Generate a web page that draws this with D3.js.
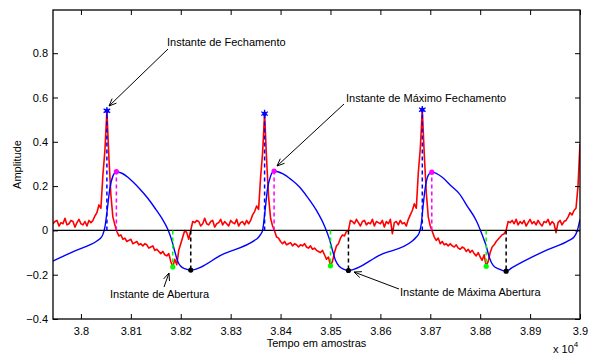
<!DOCTYPE html>
<html><head><meta charset="utf-8">
<script src="https://cdn.jsdelivr.net/npm/d3@7"></script>
<style>
body{margin:0;background:#fff}
svg{display:block}
text{font-family:"Liberation Sans",Arial,Helvetica,sans-serif;}
</style>
</head><body>
<svg id="chart" width="597" height="354"></svg>
<script>
// ---------- data ----------
const xTicks = [38000,38100,38200,38300,38400,38500,38600,38700,38800,38900,39000];
const xTickLabels = ["3.8","3.81","3.82","3.83","3.84","3.85","3.86","3.87","3.88","3.89","3.9"];
const yTicks = [-0.4,-0.2,0,0.2,0.4,0.6,0.8];
const yTickLabels = ["\u22120.4","\u22120.2","0","0.2","0.4","0.6","0.8"];

// red signal (sampled every 4 samples starting at 37944)
const redStart = 37944, redStep = 4;
const redValues = [
 0.030,0.040,0.045,0.020,0.035,0.030,0.055,0.025,0.030,0.045,0.040,0.015,0.035,0.050,0.030,0.025,0.040,0.020,0.045,0.035,
 0.045,0.065,0.080,0.115,0.100,0.250,0.360,0.540,0.330,0.160,
 0.060,0.025,-0.005,-0.025,-0.020,-0.040,-0.035,-0.050,-0.045,-0.040,
 -0.060,-0.055,-0.050,-0.065,-0.060,-0.070,-0.060,-0.065,-0.080,-0.075,
 -0.070,-0.090,-0.085,-0.095,-0.105,-0.095,-0.110,-0.115,-0.105,-0.140,
 -0.165,-0.130,-0.155,-0.090,-0.060,-0.030,0.000,-0.010,-0.040,0.000,
 0.040,
 0.035,0.045,0.040,0.020,0.030,0.055,0.030,0.025,0.040,0.045,
 0.015,0.030,0.035,0.050,0.025,0.040,0.030,0.020,0.045,0.035,
 0.030,0.050,0.020,0.035,0.040,0.025,0.045,0.030,
 0.045,0.070,0.085,0.110,0.095,0.240,0.350,0.527,0.320,0.150,
 0.055,0.020,-0.003,-0.030,-0.035,-0.050,-0.060,-0.050,-0.065,-0.060,
 -0.055,-0.070,-0.060,-0.065,-0.075,-0.065,-0.070,-0.060,-0.075,-0.080,
 -0.070,-0.085,-0.080,-0.090,-0.095,-0.100,-0.090,-0.110,-0.130,-0.120,
 -0.160,-0.140,-0.100,-0.070,-0.060,-0.035,-0.020,-0.025,-0.005,0.000,
 0.045,
 0.040,0.030,0.050,0.035,0.020,0.040,0.045,0.025,0.035,0.030,
 0.050,0.020,0.040,0.035,0.030,0.045,0.015,0.040,0.030,0.050,
 -0.015,0.035,0.040,0.025,0.045,0.030,0.035,0.020,
 0.050,0.070,0.090,0.120,0.100,0.260,0.370,0.545,0.340,0.170,
 0.060,0.020,-0.005,-0.030,-0.045,-0.035,-0.060,-0.050,-0.065,-0.060,
 -0.070,-0.060,-0.070,-0.075,-0.065,-0.080,-0.085,-0.075,-0.080,-0.095,
 -0.085,-0.100,-0.090,-0.105,-0.115,-0.100,-0.120,-0.135,-0.110,-0.162,
 -0.140,-0.100,-0.075,-0.065,-0.050,-0.040,-0.030,-0.020,-0.015,0.000,
 0.040,
 0.035,0.045,0.030,0.050,0.025,0.040,0.030,0.045,0.020,0.035,
 0.050,0.030,0.040,0.025,0.045,0.030,0.020,0.040,0.035,0.050,
 0.025,0.040,0.030,-0.010,0.035,0.045,0.025,0.040,
 0.045,0.060,0.080,0.070,0.090,0.100,0.200,0.390
];

// blue signal breakpoints
const blueX = [37944,37988,38032,38038,38044,38048,38052,38058,38064,38071,38082,38094,38106,38118,38134,38150,38162,38174,38182,38188,38194,38200,38208,38220,
 38284,38348,38354,38360,38364,38368,38374,38380,38387,38404,38422,38438,38454,38472,38488,38498,38504,38510,38518,38526,38536,
 38600,38664,38672,38678,38682,38686,38692,38696,38703,38724,38742,38758,38774,38792,38804,38812,38818,38826,38838,38852,
 38864,38932,38978,38988,38994,39000];
const blueY = [-0.138,-0.092,-0.048,-0.038,-0.018,0.015,0.080,0.190,0.245,0.265,0.258,0.240,0.215,0.187,0.145,0.095,0.055,0.005,-0.045,-0.095,-0.140,-0.162,-0.173,-0.179,
 -0.108,-0.045,-0.035,-0.018,0.000,0.070,0.190,0.245,0.268,0.256,0.228,0.196,0.150,0.090,0.020,-0.040,-0.090,-0.135,-0.163,-0.175,-0.181,
 -0.110,-0.048,-0.030,-0.010,0.030,0.120,0.220,0.250,0.263,0.240,0.200,0.166,0.110,0.045,-0.020,-0.070,-0.120,-0.158,-0.175,-0.184,
 -0.168,-0.090,-0.045,-0.030,-0.005,0.050];

// instants
const closureX = [38052,38368,38684], closureY = [0.540,0.527,0.545];
const maxCloseX = [38071,38387,38703], maxCloseY = [0.265,0.268,0.263];
const openX = [38184,38500,38812], openY = [-0.165,-0.160,-0.162];
const maxOpenX = [38220,38536,38852], maxOpenY = [-0.179,-0.181,-0.184];

// ---------- chart ----------
const svg = d3.select("#chart");
const L = 53, R = 580, T = 10, B = 319;
const x = d3.scaleLinear().domain([37944, 39000]).range([L, R]);
const y = d3.scaleLinear().domain([-0.4, 0.995]).range([B, T]);

svg.append("clipPath").attr("id","clip").append("rect")
  .attr("x",L).attr("y",T).attr("width",R-L).attr("height",B-T);
const plot = svg.append("g").attr("clip-path","url(#clip)");

const redData = redValues.map((v,i)=>[redStart + i*redStep, v]);
const blueData = blueX.map((v,i)=>[v, blueY[i]]);

plot.append("path").datum(redData)
  .attr("d", d3.line().x(d=>x(d[0])).y(d=>y(d[1])))
  .attr("fill","none").attr("stroke","#ff0000").attr("stroke-width",1.6).attr("stroke-linejoin","round");

plot.append("path").datum(blueData)
  .attr("d", d3.line().x(d=>x(d[0])).y(d=>y(d[1])).curve(d3.curveMonotoneX))
  .attr("fill","none").attr("stroke","#0000ff").attr("stroke-width",1.4);

// zero line
plot.append("line").attr("x1",L).attr("x2",R).attr("y1",y(0)).attr("y2",y(0))
  .attr("stroke","#000").attr("stroke-width",1.3);

// dashed stems
function stems(xs, ys, color){
  xs.forEach((xv,i)=>{
    plot.append("line").attr("x1",x(xv)).attr("x2",x(xv)).attr("y1",y(0)).attr("y2",y(ys[i]))
      .attr("stroke",color).attr("stroke-width",1.5).attr("stroke-dasharray","4,3");
  });
}
stems(closureX, closureY, "#0000ff");
stems(maxCloseX, maxCloseY, "#ff00ff");
stems(openX, openY, "#00ff00");
stems(maxOpenX, maxOpenY, "#000000");

// markers
function dots(xs, ys, color){
  xs.forEach((xv,i)=>{
    plot.append("circle").attr("cx",x(xv)).attr("cy",y(ys[i])).attr("r",2.6).attr("fill",color);
  });
}
closureX.forEach((xv,i)=>{
  plot.append("path").attr("transform",`translate(${x(xv)},${y(closureY[i])})`)
    .attr("d", d3.symbol(d3.symbolAsterisk, 40)())
    .attr("stroke","#0000ff").attr("stroke-width",1.3).attr("fill","none");
  plot.append("circle").attr("cx",x(xv)).attr("cy",y(closureY[i])).attr("r",2.2).attr("fill","#0000ff");
});
dots(maxCloseX, maxCloseY, "#ff00ff");
dots(openX, openY, "#00ff00");
dots(maxOpenX, maxOpenY, "#000000");

// axes
const fmtX = d => xTickLabels[xTicks.indexOf(d)];
const fmtY = d => yTickLabels[yTicks.indexOf(d)];
const axB = svg.append("g").attr("transform",`translate(0,${B})`)
  .call(d3.axisBottom(x).tickValues(xTicks).tickFormat(fmtX).tickSizeInner(-5).tickSizeOuter(0).tickPadding(8));
const axT = svg.append("g").attr("transform",`translate(0,${T})`)
  .call(d3.axisTop(x).tickValues(xTicks).tickFormat("").tickSizeInner(-5).tickSizeOuter(0));
const axLft = svg.append("g").attr("transform",`translate(${L},0)`)
  .call(d3.axisLeft(y).tickValues(yTicks).tickFormat(fmtY).tickSizeInner(-5).tickSizeOuter(0).tickPadding(5));
const axRt = svg.append("g").attr("transform",`translate(${R},0)`)
  .call(d3.axisRight(y).tickValues(yTicks).tickFormat("").tickSizeInner(-5).tickSizeOuter(0));
[axB,axT,axLft,axRt].forEach(a=>{
  a.select(".domain").remove();
  a.selectAll("line").attr("stroke","#000").attr("stroke-width",1);
  a.selectAll("text").attr("font-size",11).attr("fill","#000")
   .attr("font-family",'"Liberation Sans",Arial,sans-serif');
});
svg.append("rect").attr("x",L).attr("y",T).attr("width",R-L).attr("height",B-T)
  .attr("fill","none").attr("stroke","#000").attr("stroke-width",1.3);

// axis labels
svg.append("text").attr("x",(L+R)/2).attr("y",347).attr("text-anchor","middle")
  .attr("font-size",11).text("Tempo em amostras");
svg.append("text").attr("transform",`translate(21,${(T+B)/2}) rotate(-90)`).attr("text-anchor","middle")
  .attr("font-size",11).text("Amplitude");
const ex = svg.append("text").attr("x",553).attr("y",353).attr("font-size",11);
ex.append("tspan").text("x 10");
ex.append("tspan").attr("dy",-6).attr("font-size",8).text("4");

// annotations
const annText = ["Instante de Fechamento","Instante de M\u00e1ximo Fechamento","Instante de Abertura","Instante de M\u00e1xima Abertura"];
const annTextPos = [[167,46],[346,102],[110,298],[400,296]];
const annArrow = [[[168,49],[109,106]],[[344,104],[277,166]],[[164,287],[169,273]],[[399,289],[354,272]]];
annText.forEach((t,i)=>{
  svg.append("text").attr("x",annTextPos[i][0]).attr("y",annTextPos[i][1]).attr("font-size",11).text(t);
  const [a,b] = annArrow[i];
  svg.append("line").attr("x1",a[0]).attr("y1",a[1]).attr("x2",b[0]).attr("y2",b[1])
    .attr("stroke","#000").attr("stroke-width",1);
  const ang = Math.atan2(b[1]-a[1], b[0]-a[0]);
  const hl = 8, spread = 0.4;
  const p1 = [b[0]-hl*Math.cos(ang-spread), b[1]-hl*Math.sin(ang-spread)];
  const p2 = [b[0]-hl*Math.cos(ang+spread), b[1]-hl*Math.sin(ang+spread)];
  svg.append("path").attr("d",`M${p1[0]},${p1[1]}L${b[0]},${b[1]}L${p2[0]},${p2[1]}`)
    .attr("fill","none").attr("stroke","#000").attr("stroke-width",1);
});
</script>
</body></html>
